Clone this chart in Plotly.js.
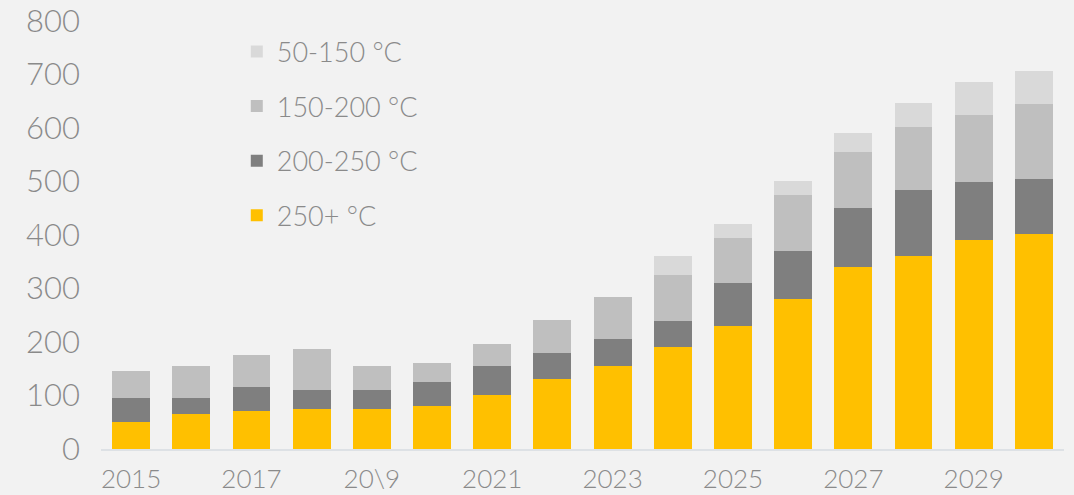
<!DOCTYPE html>
<html>
<head>
<meta charset="utf-8">
<script src="https://cdn.plot.ly/plotly-3.0.1.min.js"></script>
<style>html,body{margin:0;padding:0;background:#f2f2f2;}#chart{width:1074px;height:495px;}</style>
</head>
<body>
<div id="chart"></div>
<script>
const years = ["2015","2016","2017","2018","2019","2020","2021","2022","2023","2024","2025","2026","2027","2028","2029","2030"];
const tickVals = ["2015","2017","2019","2021","2023","2025","2027","2029"];
const tickText = ["2015","2017","20\\9","2021","2023","2025","2027","2029"];
const seriesNames = ["250+ °C","200-250 °C","150-200 °C","50-150 °C"];
const s250plus = [50, 66, 71, 75, 75, 81, 101, 131, 155, 191, 230, 280, 340, 361, 391, 401];
const s200_250 = [46, 30, 44, 36, 36, 45, 54, 48, 51, 49, 80, 90, 111, 124, 109, 104];
const s150_200 = [49, 59, 61, 75, 44, 34, 41, 62, 79, 85, 84, 105, 105, 116, 125, 140];
const s50_150  = [0, 0, 0, 0, 0, 0, 0, 0, 0, 35, 26, 26, 35, 45, 61, 61];
const colors = ["#ffc000","#7f7f7f","#bfbfbf","#d9d9d9"];
const allSeries = [s250plus, s200_250, s150_200, s50_150];

const txt = "#8a8a8a";
const fam = "Lato, 'Open Sans', sans-serif";
const traces = allSeries.map((vals, i) => ({
  type: "bar",
  x: years,
  y: vals,
  name: seriesNames[i],
  legendgroup: "g" + i,
  legendrank: 1000 - i,
  marker: {color: colors[i], line: {width: 0}},
  hoverinfo: "x+y+name"
}));

const layout = {
  width: 1074, height: 495,
  paper_bgcolor: "#f2f2f2", plot_bgcolor: "#f2f2f2",
  margin: {l: 101, r: 10, t: 21, b: 46},
  barmode: "stack",
  bargap: 0.37,
  font: {family: fam, color: txt, weight: 300},
  xaxis: {
    type: "category",
    tickvals: tickVals, ticktext: tickText,
    tickfont: {size: 26, color: txt, family: fam, weight: 300},
    showgrid: false, zeroline: false,
    showline: true, linecolor: "#dde1e5", linewidth: 2,
    ticks: "", ticklabelstandoff: 6
  },
  yaxis: {
    range: [0, 800], dtick: 100, tick0: 0,
    tickfont: {size: 31, color: txt, family: fam, weight: 300},
    showgrid: false, zeroline: false, showline: false,
    ticks: "", ticklabelstandoff: 20
  },
  legend: {
    x: 0.141, y: 0.985, xanchor: "left", yanchor: "top",
    bgcolor: "rgba(0,0,0,0)",
    traceorder: "grouped",
    tracegroupgap: 16.5,
    font: {size: 27, color: txt, family: fam, weight: 300},
    itemwidth: 30
  },
  showlegend: true
};

Plotly.newPlot("chart", traces, layout, {displayModeBar: false, staticPlot: true});
</script>
</body>
</html>
